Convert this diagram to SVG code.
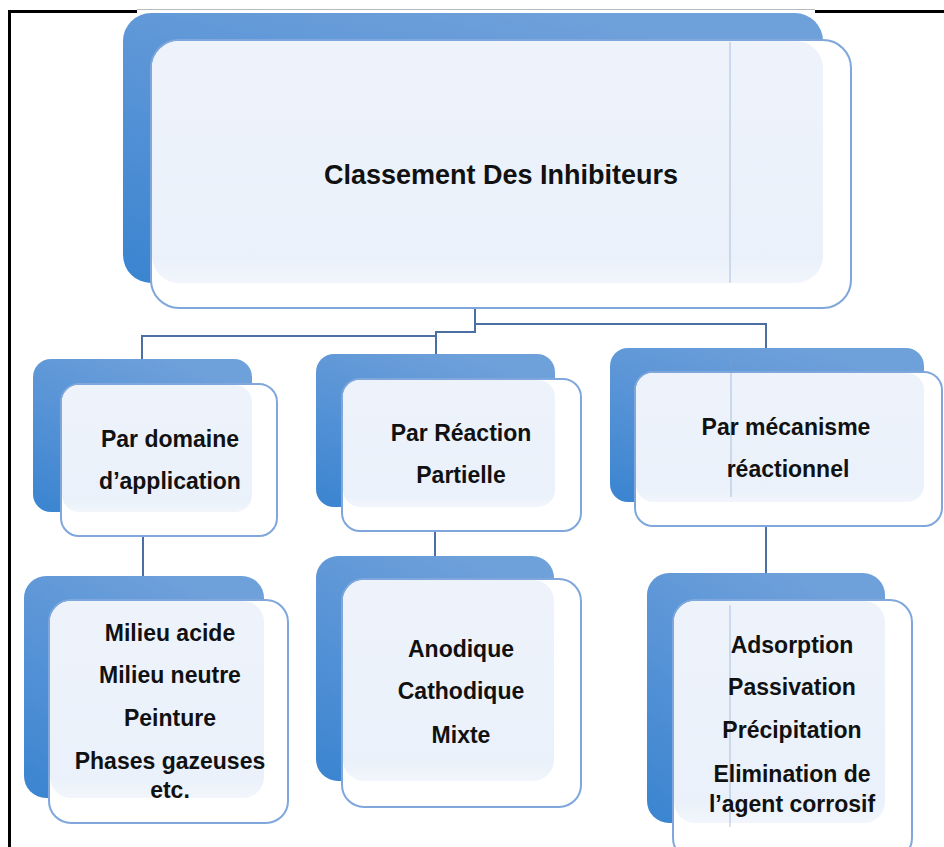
<svg xmlns="http://www.w3.org/2000/svg" width="944" height="847" viewBox="0 0 944 847">
<defs>
<linearGradient id="back" x1="0" y1="1" x2="0.6" y2="0">
<stop offset="0" stop-color="#3A84D0"/>
<stop offset="0.5" stop-color="#5592D6"/>
<stop offset="1" stop-color="#6EA0DA"/>
</linearGradient>
<linearGradient id="light" x1="0" y1="0" x2="0" y2="1">
<stop offset="0" stop-color="#EEF3FB"/>
<stop offset="0.9" stop-color="#EAF1FA"/>
<stop offset="1" stop-color="#F2F6FC"/>
</linearGradient>
<style>
.back{fill:url(#back);}
.front{fill:#FFFFFF;stroke:#7FA7DC;stroke-width:2;}
.ov{fill:url(#light);}
.art{stroke:#7E9DC8;stroke-width:1;opacity:0.6;fill:none;}
.conn{fill:none;stroke:#4B6FA3;stroke-width:2;}
text{font-family:"Liberation Sans",Arial,sans-serif;font-weight:bold;fill:#111;text-anchor:middle;}
.t1{font-size:27px;}
.t2{font-size:23px;}
.t3{font-size:23px;}
</style>
</defs>
<rect x="0" y="0" width="944" height="847" fill="#FFFFFF"/>
<g id="frame">
<line x1="137" y1="9.5" x2="815" y2="9.5" stroke="#BBBBBB" stroke-width="1"/>
<line x1="8" y1="11.5" x2="137" y2="11.5" stroke="#000" stroke-width="3"/>
<line x1="815" y1="11.5" x2="944" y2="11.5" stroke="#000" stroke-width="3"/>
<line x1="9.5" y1="10" x2="9.5" y2="847" stroke="#000" stroke-width="3"/>
</g>
<g id="connectors">
<path class="conn" d="M475,308 V332 H436 V355"/>
<path class="conn" d="M475,324 H766 V348"/>
<path class="conn" d="M436,336 H142 V359"/>
<path class="conn" d="M143,537 V577"/>
<path class="conn" d="M435,531 V556"/>
<path class="conn" d="M766,526 V573"/>
</g>
<g id="root">
<rect class="back" x="123" y="13" width="700" height="270" rx="28"/>
<rect class="front" x="151" y="40" width="700" height="268" rx="28"/>
<rect class="ov" x="152" y="41" width="671" height="242" rx="27"/>
<line class="art" x1="730" y1="42" x2="730" y2="283"/>
<text class="t1" x="501" y="184">Classement Des Inhibiteurs</text>
</g>
<g id="n-domaine">
<rect class="back" x="33" y="359" width="219" height="153" rx="18"/>
<rect class="front" x="61" y="384" width="216" height="152" rx="18"/>
<rect class="ov" x="62" y="385" width="190" height="127" rx="17"/>
<text class="t2" x="170" y="447">Par domaine</text>
<text class="t2" x="170" y="489">d’application</text>
</g>
<g id="n-reaction">
<rect class="back" x="316" y="354" width="239" height="153" rx="18"/>
<rect class="front" x="342" y="379" width="239" height="152" rx="18"/>
<rect class="ov" x="343" y="380" width="212" height="127" rx="17"/>
<text class="t2" x="461" y="441">Par Réaction</text>
<text class="t2" x="461" y="483">Partielle</text>
</g>
<g id="n-mecanisme">
<rect class="back" x="610" y="348" width="314" height="154" rx="18"/>
<rect class="front" x="635" y="372" width="307" height="154" rx="18"/>
<rect class="ov" x="636" y="373" width="288" height="129" rx="17"/>
<line class="art" x1="731" y1="357" x2="731" y2="497"/>
<text class="t2" x="786" y="435">Par mécanisme</text>
<text class="t2" x="788" y="477">réactionnel</text>
</g>
<g id="n-milieux">
<rect class="back" x="24" y="576" width="240" height="222" rx="22"/>
<rect class="front" x="49" y="600" width="239" height="223" rx="22"/>
<rect class="ov" x="50" y="601" width="214" height="197" rx="21"/>
<text class="t3" x="170" y="641">Milieu acide</text>
<text class="t3" x="170" y="683">Milieu neutre</text>
<text class="t3" x="170" y="726">Peinture</text>
<text class="t3" x="170" y="769">Phases gazeuses</text>
<text class="t3" x="170" y="798">etc.</text>
</g>
<g id="n-types">
<rect class="back" x="316" y="556" width="238" height="225" rx="22"/>
<rect class="front" x="342" y="579" width="239" height="228" rx="22"/>
<rect class="ov" x="343" y="580" width="211" height="201" rx="21"/>
<text class="t3" x="461" y="657">Anodique</text>
<text class="t3" x="461" y="699">Cathodique</text>
<text class="t3" x="461" y="743">Mixte</text>
</g>
<g id="n-mecanismes">
<rect class="back" x="647" y="573" width="238" height="250" rx="22"/>
<rect class="front" x="673" y="600" width="239" height="260" rx="22"/>
<rect class="ov" x="674" y="601" width="211" height="222" rx="21"/>
<line class="art" x1="730" y1="605" x2="730" y2="827"/>
<text class="t3" x="792" y="653">Adsorption</text>
<text class="t3" x="792" y="695">Passivation</text>
<text class="t3" x="792" y="738">Précipitation</text>
<text class="t3" x="792" y="782">Elimination de</text>
<text class="t3" x="792" y="812">l’agent corrosif</text>
</g>
</svg>
